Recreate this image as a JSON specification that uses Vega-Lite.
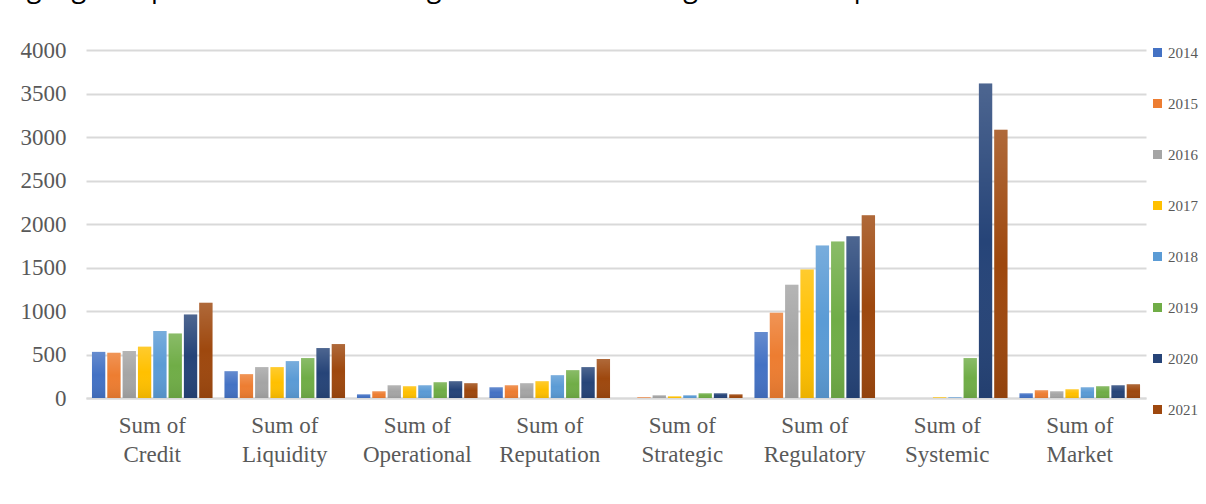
{
  "$schema": "https://vega.github.io/schema/vega-lite/v6.json",
  "autosize": {"type": "none"},
  "width": 1060,
  "height": 348,
  "padding": {"left": 86, "top": 50, "right": 60, "bottom": 106},
  "background": "white",
  "title": {
    "text": "Highlighted pie and bar scale of high risk of the banking sector of deposits",
    "anchor": "start",
    "frame": "group",
    "offset": 15,
    "dx": -86,
    "baseline": "alphabetic",
    "font": "Open Sans",
    "fontSize": 27,
    "fontWeight": "normal",
    "color": "#000000"
  },
  "data": {
    "values": [
      {"risk": "Sum of Credit", "year": "2014", "value": 530},
      {"risk": "Sum of Credit", "year": "2015", "value": 520},
      {"risk": "Sum of Credit", "year": "2016", "value": 540},
      {"risk": "Sum of Credit", "year": "2017", "value": 590},
      {"risk": "Sum of Credit", "year": "2018", "value": 770},
      {"risk": "Sum of Credit", "year": "2019", "value": 740},
      {"risk": "Sum of Credit", "year": "2020", "value": 960},
      {"risk": "Sum of Credit", "year": "2021", "value": 1095},
      {"risk": "Sum of Liquidity", "year": "2014", "value": 308},
      {"risk": "Sum of Liquidity", "year": "2015", "value": 274},
      {"risk": "Sum of Liquidity", "year": "2016", "value": 355},
      {"risk": "Sum of Liquidity", "year": "2017", "value": 355},
      {"risk": "Sum of Liquidity", "year": "2018", "value": 424},
      {"risk": "Sum of Liquidity", "year": "2019", "value": 459},
      {"risk": "Sum of Liquidity", "year": "2020", "value": 574},
      {"risk": "Sum of Liquidity", "year": "2021", "value": 620},
      {"risk": "Sum of Operational", "year": "2014", "value": 42},
      {"risk": "Sum of Operational", "year": "2015", "value": 77},
      {"risk": "Sum of Operational", "year": "2016", "value": 146},
      {"risk": "Sum of Operational", "year": "2017", "value": 135},
      {"risk": "Sum of Operational", "year": "2018", "value": 146},
      {"risk": "Sum of Operational", "year": "2019", "value": 181},
      {"risk": "Sum of Operational", "year": "2020", "value": 193},
      {"risk": "Sum of Operational", "year": "2021", "value": 170},
      {"risk": "Sum of Reputation", "year": "2014", "value": 123},
      {"risk": "Sum of Reputation", "year": "2015", "value": 146},
      {"risk": "Sum of Reputation", "year": "2016", "value": 170},
      {"risk": "Sum of Reputation", "year": "2017", "value": 193},
      {"risk": "Sum of Reputation", "year": "2018", "value": 262},
      {"risk": "Sum of Reputation", "year": "2019", "value": 320},
      {"risk": "Sum of Reputation", "year": "2020", "value": 355},
      {"risk": "Sum of Reputation", "year": "2021", "value": 447},
      {"risk": "Sum of Strategic", "year": "2014", "value": 0},
      {"risk": "Sum of Strategic", "year": "2015", "value": 8},
      {"risk": "Sum of Strategic", "year": "2016", "value": 31},
      {"risk": "Sum of Strategic", "year": "2017", "value": 19},
      {"risk": "Sum of Strategic", "year": "2018", "value": 31},
      {"risk": "Sum of Strategic", "year": "2019", "value": 54},
      {"risk": "Sum of Strategic", "year": "2020", "value": 54},
      {"risk": "Sum of Strategic", "year": "2021", "value": 42},
      {"risk": "Sum of Regulatory", "year": "2014", "value": 759},
      {"risk": "Sum of Regulatory", "year": "2015", "value": 979},
      {"risk": "Sum of Regulatory", "year": "2016", "value": 1303},
      {"risk": "Sum of Regulatory", "year": "2017", "value": 1476},
      {"risk": "Sum of Regulatory", "year": "2018", "value": 1754},
      {"risk": "Sum of Regulatory", "year": "2019", "value": 1800},
      {"risk": "Sum of Regulatory", "year": "2020", "value": 1858},
      {"risk": "Sum of Regulatory", "year": "2021", "value": 2100},
      {"risk": "Sum of Systemic", "year": "2014", "value": 0},
      {"risk": "Sum of Systemic", "year": "2015", "value": 0},
      {"risk": "Sum of Systemic", "year": "2016", "value": 0},
      {"risk": "Sum of Systemic", "year": "2017", "value": 8},
      {"risk": "Sum of Systemic", "year": "2018", "value": 8},
      {"risk": "Sum of Systemic", "year": "2019", "value": 459},
      {"risk": "Sum of Systemic", "year": "2020", "value": 3615},
      {"risk": "Sum of Systemic", "year": "2021", "value": 3083},
      {"risk": "Sum of Market", "year": "2014", "value": 54},
      {"risk": "Sum of Market", "year": "2015", "value": 89},
      {"risk": "Sum of Market", "year": "2016", "value": 77},
      {"risk": "Sum of Market", "year": "2017", "value": 100},
      {"risk": "Sum of Market", "year": "2018", "value": 123},
      {"risk": "Sum of Market", "year": "2019", "value": 135},
      {"risk": "Sum of Market", "year": "2020", "value": 146},
      {"risk": "Sum of Market", "year": "2021", "value": 158}
    ]
  },
  "encoding": {
    "x": {
      "field": "risk",
      "type": "nominal",
      "sort": null,
      "scale": {"paddingInner": 0.09, "paddingOuter": 0.045},
      "axis": {
        "title": null,
        "labelAngle": 0,
        "labelExpr": "['Sum of', replace(datum.label, 'Sum of ', '')]",
        "labelFont": "Liberation Serif",
        "labelFontSize": 23,
        "labelColor": "#595959",
        "labelLineHeight": 29,
        "labelPadding": 16,
        "ticks": false,
        "domain": true,
        "domainColor": "#d9d9d9",
        "domainWidth": 2,
        "grid": false
      }
    },
    "xOffset": {
      "field": "year",
      "type": "nominal",
      "scale": {"paddingInner": 0.13, "paddingOuter": 0.0}
    },
    "y": {
      "field": "value",
      "type": "quantitative",
      "scale": {"domain": [0, 4000], "nice": false},
      "axis": {
        "title": null,
        "format": "d",
        "values": [0, 500, 1000, 1500, 2000, 2500, 3000, 3500, 4000],
        "labelFont": "Liberation Serif",
        "labelFontSize": 23,
        "labelColor": "#595959",
        "labelPadding": 20,
        "ticks": false,
        "domain": false,
        "grid": true,
        "gridColor": "#d9d9d9",
        "gridWidth": 2
      }
    }
  },
  "layer": [
    {
      "mark": {"type": "bar"},
      "encoding": {
        "color": {
          "field": "year",
          "type": "nominal",
          "scale": {
            "domain": ["2014", "2015", "2016", "2017", "2018", "2019", "2020", "2021"],
            "range": ["#4472C4", "#ED7D31", "#A5A5A5", "#FFC000", "#5B9BD5", "#70AD47", "#264478", "#9E480E"]
          },
          "legend": {
            "title": null,
            "orient": "none",
            "legendX": 1064,
            "legendY": -5,
            "symbolType": "square",
            "symbolSize": 81,
            "symbolStrokeWidth": 0,
            "labelFont": "Liberation Serif",
            "labelFontSize": 15,
            "labelColor": "#595959",
            "labelOffset": 3,
            "rowPadding": 35
          }
        }
      }
    },
    {
      "mark": {
        "type": "bar",
        "color": {
          "gradient": "linear",
          "x1": 0, "y1": 0, "x2": 0, "y2": 1,
          "stops": [
            {"offset": 0, "color": "rgba(255,255,255,0.18)"},
            {"offset": 0.5, "color": "rgba(255,255,255,0)"},
            {"offset": 1, "color": "rgba(0,0,0,0.08)"}
          ]
        }
      },
      "encoding": {}
    }
  ],
  "config": {
    "view": {"stroke": null}
  }
}
